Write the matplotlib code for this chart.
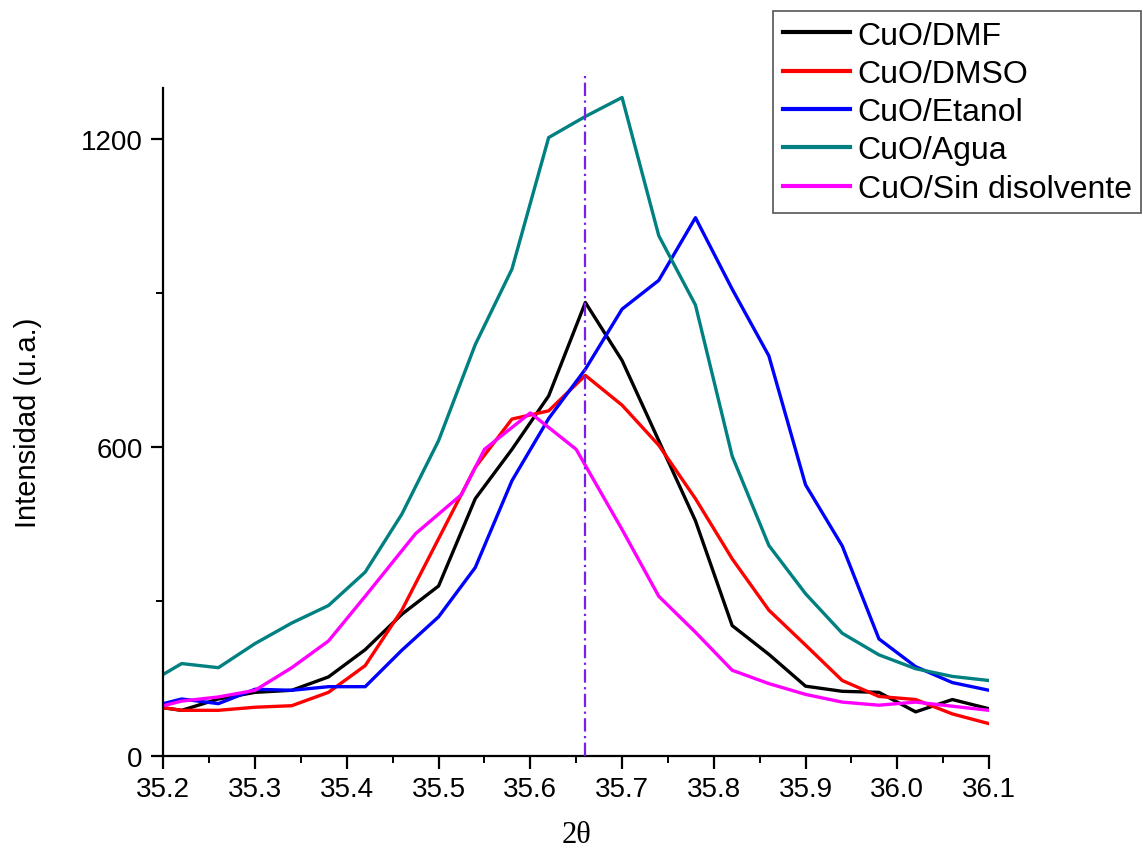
import numpy as np
import matplotlib
matplotlib.use('Agg')
import matplotlib.pyplot as plt
from matplotlib.ticker import MultipleLocator

plt.rcParams['font.family'] = ['Liberation Sans', 'DejaVu Sans']

# 2-theta grid shared by most curves
two_theta = [35.20, 35.22, 35.26, 35.30, 35.34, 35.38, 35.42, 35.46, 35.50, 35.54,
             35.58, 35.62, 35.66, 35.70, 35.74, 35.78, 35.82, 35.86, 35.90, 35.94,
             35.98, 36.02, 36.06, 36.10]

cuo_dmf = [93, 88, 110, 123, 127, 153, 206, 275, 330, 500,
           596, 700, 882, 769, 613, 457, 253, 197, 135, 125,
           123, 85, 109, 91]
cuo_dmso = [93, 88, 88, 94, 97, 123, 175, 283, 422, 561,
            655, 671, 740, 682, 604, 500, 383, 283, 215, 146,
            115, 109, 81, 62]
cuo_etanol = [101, 110, 101, 129, 127, 134, 134, 205, 270, 366,
              535, 656, 752, 869, 925, 1047, 908, 778, 527, 408,
              227, 173, 142, 127]
cuo_agua = [158, 179, 171, 218, 258, 292, 357, 470, 613, 800,
            947, 1203, 1244, 1281, 1012, 877, 583, 409, 315, 238,
            196, 169, 154, 146]

# the solvent-free sample has its own points
two_theta_sin = [35.20, 35.22, 35.26, 35.30, 35.34, 35.38, 35.42, 35.475, 35.525, 35.55,
                 35.60, 35.65, 35.70, 35.74, 35.78, 35.82, 35.86, 35.90, 35.94, 35.98,
                 36.02, 36.06, 36.10]
cuo_sin = [97, 106, 114, 127, 171, 223, 310, 432, 508, 596,
           667, 596, 440, 310, 240, 166, 140, 119, 104, 98,
           104, 96, 88]

labels = ['CuO/DMF', 'CuO/DMSO', 'CuO/Etanol', 'CuO/Agua', 'CuO/Sin disolvente']
colors = ['black', '#FF0000', '#0000FF', '#008080', '#FF00FF']
peak_pos = 35.66

fig = plt.figure(figsize=(11.43, 8.53), dpi=100)
ax = fig.add_axes([0.1429, 0.1131, 0.7224, 0.7829])

series = [(two_theta, cuo_dmf), (two_theta, cuo_dmso), (two_theta, cuo_etanol),
          (two_theta, cuo_agua), (two_theta_sin, cuo_sin)]
for (x, y), lab, c in zip(series, labels, colors):
    ax.plot(x, y, color=c, lw=2.4, label=lab)

ax.plot([peak_pos, peak_pos], [0, 1325], color='#7A1FE8', lw=1.6,
        linestyle=(0, (6, 2, 1, 2)), clip_on=False, zorder=5)

ax.set_xlim(35.2, 36.1)
ax.set_ylim(0, 1300)
ax.xaxis.set_major_locator(MultipleLocator(0.1))
ax.xaxis.set_minor_locator(MultipleLocator(0.05))
ax.yaxis.set_major_locator(MultipleLocator(600))
ax.yaxis.set_minor_locator(MultipleLocator(300))
ax.set_xticklabels([f'{v:.1f}' for v in ax.get_xticks()])

for s in ['top', 'right']:
    ax.spines[s].set_visible(False)
for s in ['left', 'bottom']:
    ax.spines[s].set_linewidth(1.6)

ax.tick_params(which='major', direction='out', length=9, width=1.6, labelsize=20, pad=6)
ax.tick_params(which='minor', direction='out', length=5, width=1.4)

ax.set_ylabel('Intensidad (u.a.)', fontsize=21, labelpad=28)
ax.set_xlabel('2\u03b8', fontsize=22, family=['Liberation Serif', 'DejaVu Serif'], labelpad=13)

leg = fig.legend(loc='upper right', bbox_to_anchor=(0.9985, 0.986), fontsize=23,
                 handlelength=2.1, handletextpad=0.25, labelspacing=0.26,
                 borderpad=0.3, borderaxespad=0, fancybox=False, framealpha=1)
leg.get_frame().set_edgecolor('#555555')
leg.get_frame().set_linewidth(1.2)
for h in leg.get_lines():
    h.set_linewidth(3)

fig.savefig('out.png', dpi=100)
